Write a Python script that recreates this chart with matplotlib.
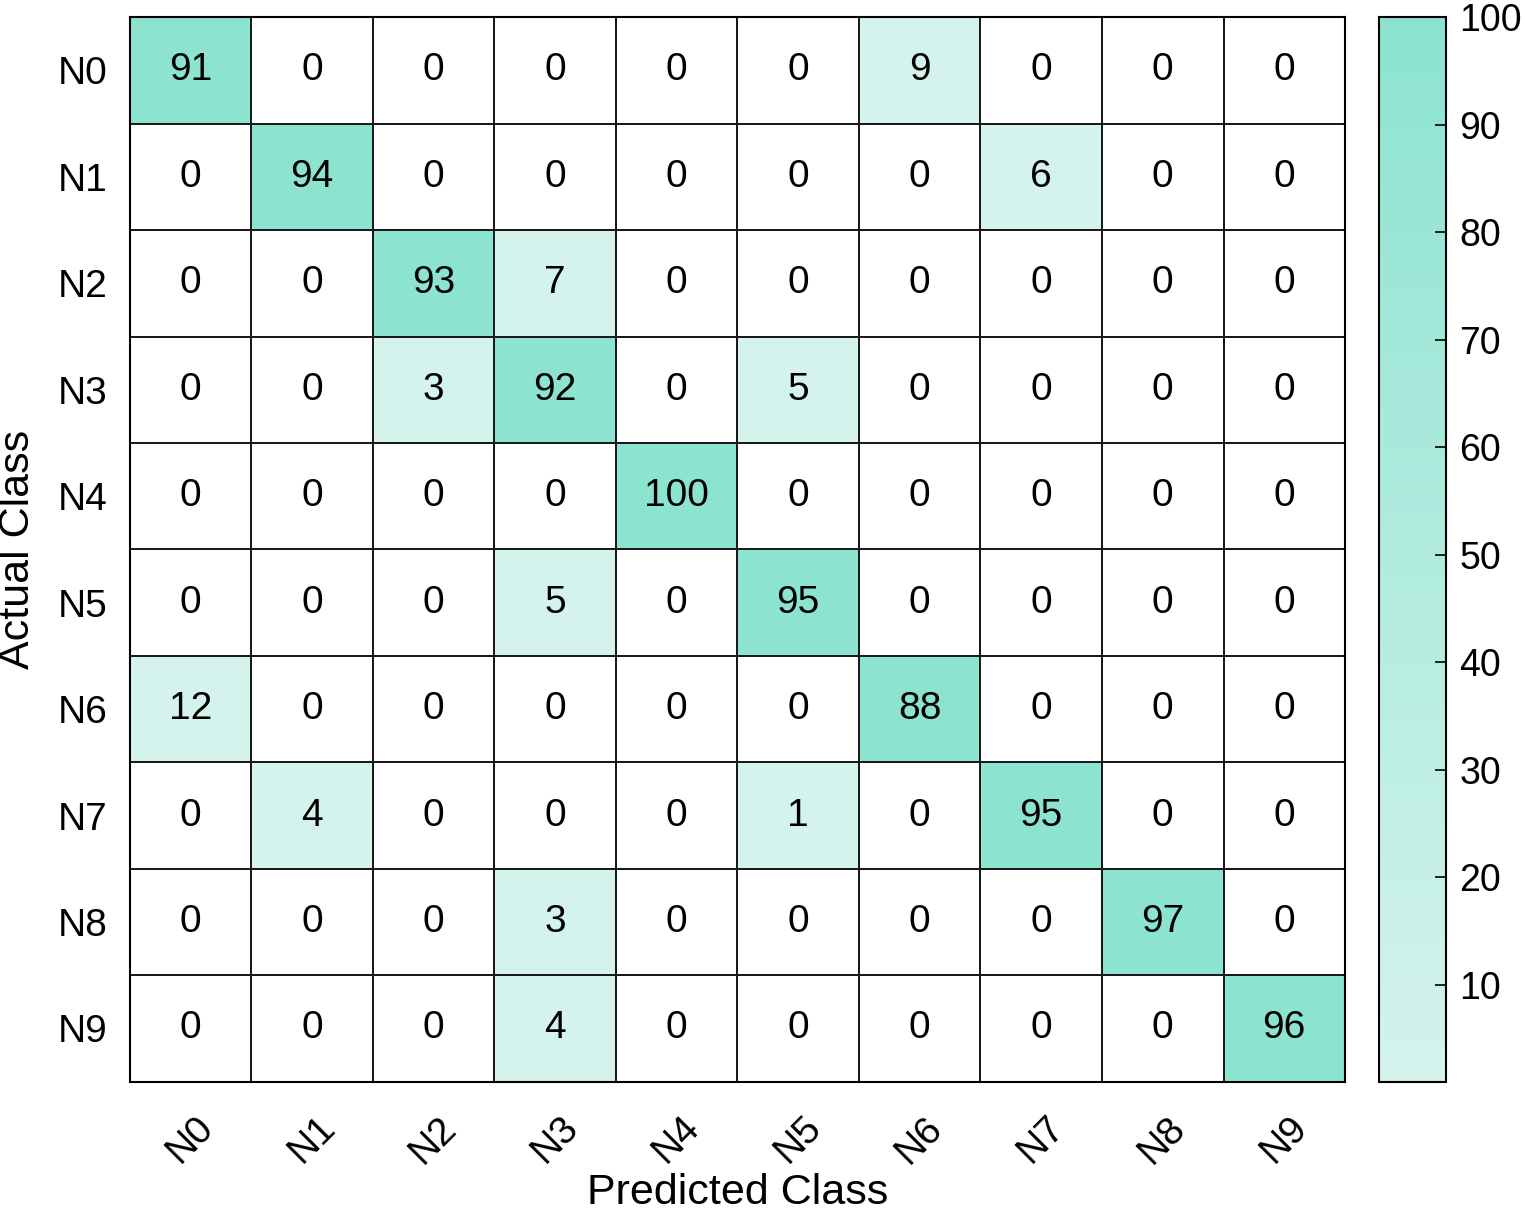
import matplotlib
matplotlib.use("Agg")
import matplotlib.pyplot as plt
import numpy as np
from matplotlib.colors import LinearSegmentedColormap, ListedColormap, BoundaryNorm, Normalize
import matplotlib.cm as cm

labels = ["N0","N1","N2","N3","N4","N5","N6","N7","N8","N9"]
matrix = [
 [91,0,0,0,0,0,9,0,0,0],
 [0,94,0,0,0,0,0,6,0,0],
 [0,0,93,7,0,0,0,0,0,0],
 [0,0,3,92,0,5,0,0,0,0],
 [0,0,0,0,100,0,0,0,0,0],
 [0,0,0,5,0,95,0,0,0,0],
 [12,0,0,0,0,0,88,0,0,0],
 [0,4,0,0,0,1,0,95,0,0],
 [0,0,0,3,0,0,0,0,97,0],
 [0,0,0,4,0,0,0,0,0,96],
]
plt.rcParams['font.family'] = ['Liberation Sans', 'DejaVu Sans']
M = np.array(matrix)
light, dark = "#d4f3ec", "#8ce3d0"

fig = plt.figure(figsize=(15.25, 12.25), dpi=100)
ax = fig.add_axes([0.085, 0.117, 0.797, 0.869])
cmap = ListedColormap(["#ffffff", light, dark])
norm = BoundaryNorm([-0.5, 0.5, 50, 101], 3)
ax.pcolormesh(np.arange(11), np.arange(11), M, cmap=cmap, norm=norm,
              edgecolor="#1a1a1a", linewidth=1.2)
ax.set_xlim(0, 10); ax.set_ylim(10, 0)
for i in range(10):
    for j in range(10):
        ax.text(j+0.5, i+0.5, str(M[i, j]), ha="center", va="center", fontsize=28)
ax.set_xticks(np.arange(10)+0.5)
ax.set_xticklabels(labels, rotation=45, fontsize=28)
ax.set_yticks(np.arange(10)+0.5)
ax.set_yticklabels(labels, fontsize=28)
ax.tick_params(axis="y", length=0, pad=16)
ax.tick_params(axis="x", length=0, pad=20)
for s in ax.spines.values():
    s.set_linewidth(1.5)
ax.set_xlabel("Predicted Class", fontsize=31, labelpad=2)
ax.set_ylabel("Actual Class", fontsize=31, labelpad=14)

cax = fig.add_axes([0.904, 0.117, 0.044, 0.869])
gcmap = LinearSegmentedColormap.from_list("g", [light, dark])
cb = fig.colorbar(cm.ScalarMappable(norm=Normalize(1, 100), cmap=gcmap), cax=cax)
cb.set_ticks(range(10, 101, 10))
cb.ax.tick_params(labelsize=27, direction="in", length=8, width=1.2, pad=10)
cb.outline.set_linewidth(1.5)
fig.savefig("out.png", dpi=100)
